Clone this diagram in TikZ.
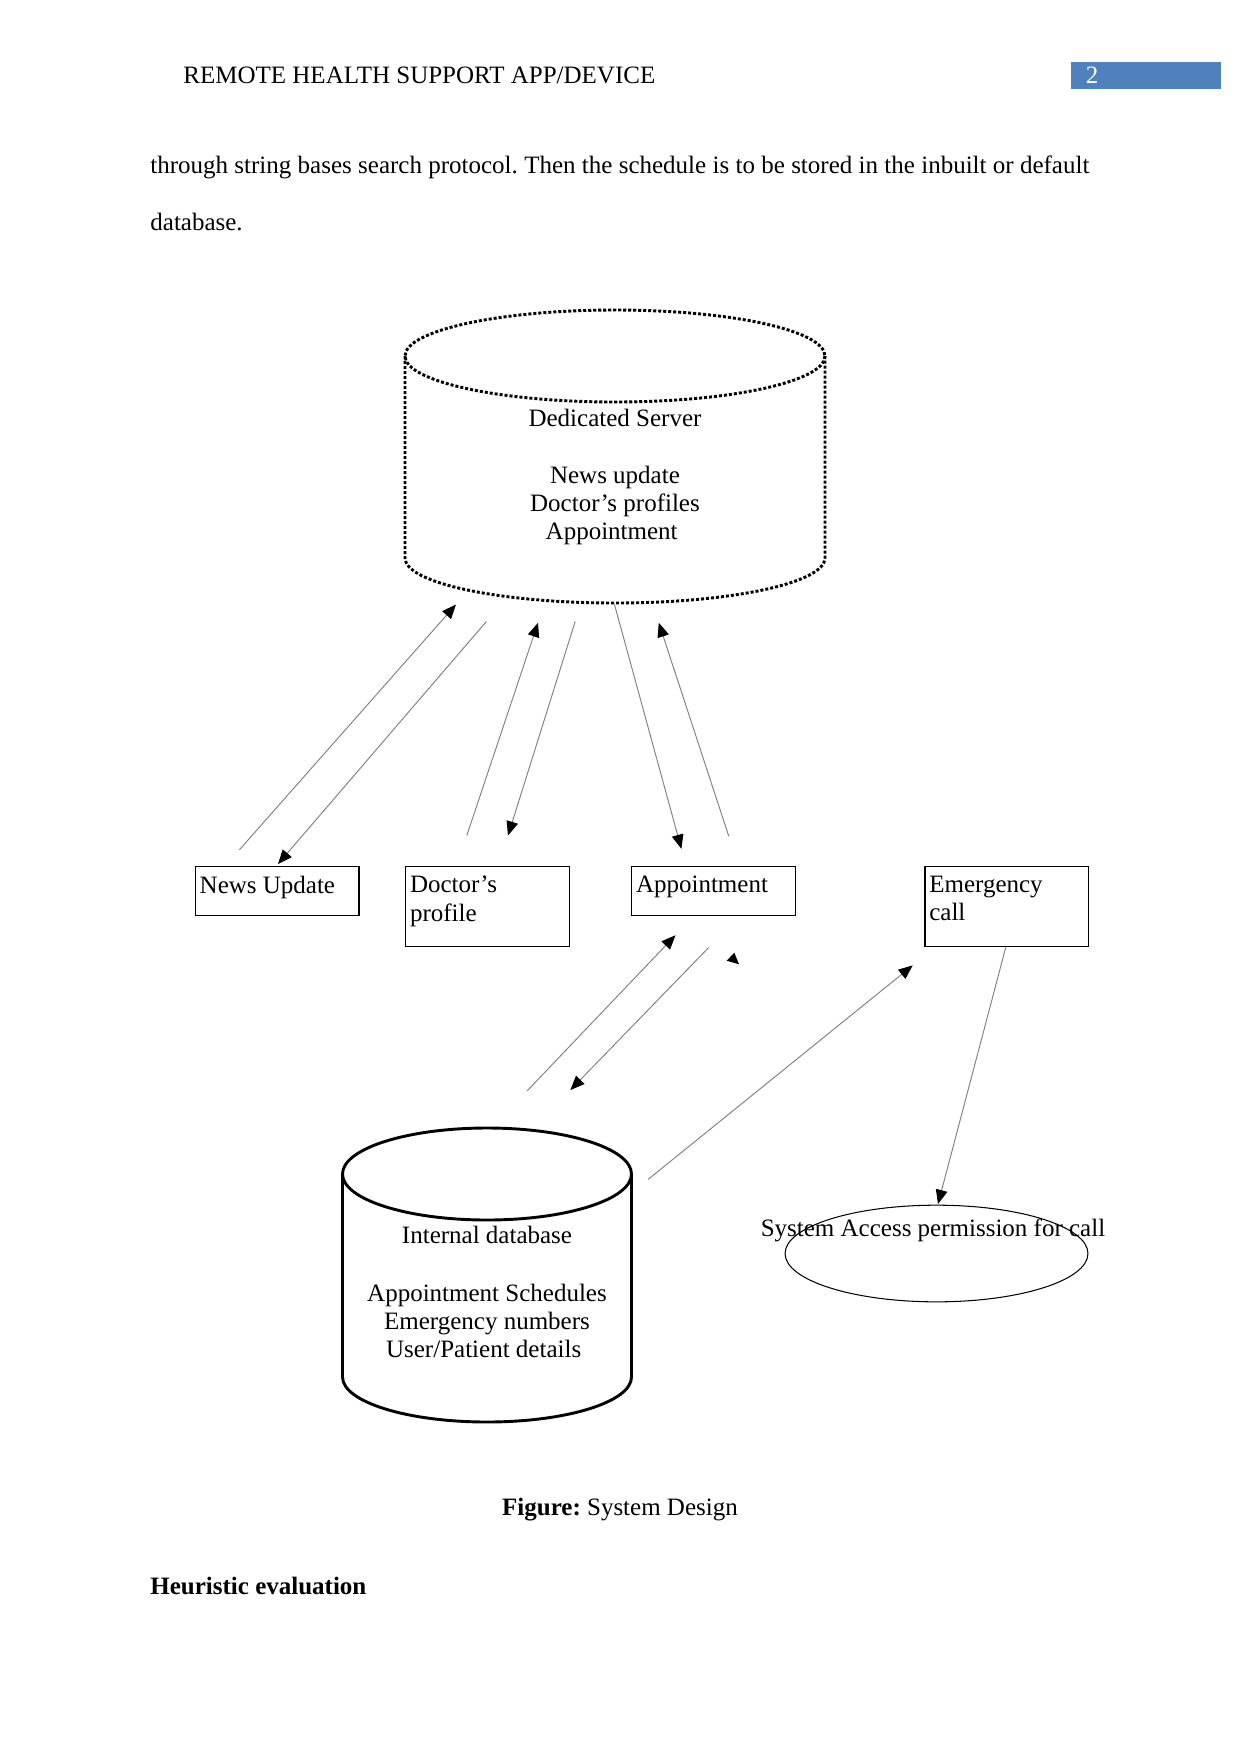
\documentclass[tikz,border=0pt]{standalone}
\usepackage{fontspec}
\setmainfont{Liberation Serif}
\usetikzlibrary{arrows.meta,shapes.geometric}
\definecolor{hdrblue}{HTML}{4F81BD}
\frenchspacing
\begin{document}
\begin{tikzpicture}[x=0.48pt,y=-0.48pt,
  every node/.style={font=\fontsize{12}{13.6}\selectfont},
  flow/.style={draw=black!50, line width=0.45pt, -{Triangle[length=6.8pt,width=5.6pt,color=black]}},
  boxnode/.style={draw, line width=0.6pt, anchor=north west, minimum width=78.6pt, inner sep=0pt},
  boxtext/.style={anchor=north west, inner sep=0pt, align=left, xshift=2.2pt, yshift=-4.7pt},
  cyltext/.style={anchor=north, inner sep=0pt, align=center},
  srvline/.style={line width=1.4pt, dash pattern=on 1.45pt off 0.95pt},
  dbline/.style={line width=1.4pt},
  plain/.style={inner sep=0pt}]
\useasboundingbox[fill=white] (0,0) rectangle (1241,1754);

% header
\node[plain, anchor=base west] (hdr) at (183,83) {REMOTE HEALTH SUPPORT APP/DEVICE};
\node[fill=hdrblue, anchor=north west, minimum width=72pt, minimum height=12.9pt, inner sep=0pt] (pgbox) at (1071,61.5) {};
\node[plain, anchor=base, text=white] (pgnum) at (1092,83) {2};

% body text
\node[plain, anchor=base west] (body1) at (150,173.3) {\makebox[450.7pt][s]{through string bases search protocol. Then the schedule is to be stored in the inbuilt or default}};
\node[plain, anchor=base west] (body2) at (150,230) {database.};

% dedicated server cylinder
\draw[srvline] (615,356) ellipse [x radius=210, y radius=46];
\draw[srvline] (405,356) -- (405,558) arc[start angle=180, end angle=0, x radius=210, y radius=45] -- (825,356);
\node[cyltext] (server) at (615,409) {Dedicated Server\\[13.4pt]News update\\Doctor’s profiles\\Appointment\hspace*{3.2pt}};

% boxes
\node[boxnode, minimum height=23.5pt] (newsbox) at (194.7,866) {};
\node[boxtext] (newstext) at (newsbox.north west) {News Update};
\node[boxnode, minimum height=38.2pt] (docbox) at (405,866) {};
\node[boxtext] (doctext) at (docbox.north west) {Doctor’s\\profile};
\node[boxnode, minimum height=23.5pt] (appbox) at (631,866) {};
\node[boxtext] (apptext) at (appbox.north west) {Appointment};
\node[boxnode, minimum height=38.2pt] (emebox) at (924.3,866) {};
\node[boxtext] (emetext) at (emebox.north west) {Emergency\\call};

% internal database cylinder
\draw[dbline] (487,1174) ellipse [x radius=144.5, y radius=46];
\draw[dbline] (342.5,1174) -- (342.5,1377) arc[start angle=180, end angle=0, x radius=144.5, y radius=45] -- (631.5,1174);
\node[cyltext] (intdb) at (487,1226) {Internal database\\[14pt]Appointment Schedules\\Emergency numbers\\User/Patient details\hspace*{3.2pt}};

% system access ellipse
\node[draw, ellipse, line width=0.5pt, minimum width=145.4pt, minimum height=46.4pt, inner sep=0pt] (sysacc) at (936.5,1253.5) {};
\node[plain, anchor=base] (systext) at (933,1236.7) {System Access permission for call};

% connector end points
\coordinate (a1s) at (239.4,849.8);  \coordinate (a1e) at (456,604.5);
\coordinate (a2s) at (486.4,621.5);  \coordinate (a2e) at (278,864);
\coordinate (a3s) at (466.8,835.5);  \coordinate (a3e) at (538,622.8);
\coordinate (a4s) at (575.2,621.4);  \coordinate (a4e) at (508,835.5);
\coordinate (a5s) at (614.4,604.2);  \coordinate (a5e) at (681.4,848.8);
\coordinate (a6s) at (728.8,836.3);  \coordinate (a6e) at (658.8,622.8);
\coordinate (a7s) at (527.2,1090.8); \coordinate (a7e) at (675.5,935.2);
\coordinate (a8s) at (708.7,947.5);  \coordinate (a8e) at (570.4,1090);
\coordinate (a10s) at (648.1,1179.4); \coordinate (a10e) at (912.7,965.4);
\coordinate (a11s) at (1005.8,947.2); \coordinate (a11e) at (938,1204);

\draw[flow] (a1s) -- (a1e);
\draw[flow] (a2s) -- (a2e);
\draw[flow] (a3s) -- (a3e);
\draw[flow] (a4s) -- (a4e);
\draw[flow] (a5s) -- (a5e);
\draw[flow] (a6s) -- (a6e);
\draw[flow] (a7s) -- (a7e);
\draw[flow] (a8s) -- (a8e);
\draw[flow] (a10s) -- (a10e);
\draw[flow] (a11s) -- (a11e);

% stray arrow head
\fill (734.3,952.7) -- (726.7,960.7) -- (739,964.3) -- cycle;

% caption and heading
\node[plain, anchor=base] (caption) at (620,1515) {\textbf{Figure:} System Design};
\node[plain, anchor=base west] (heur) at (150,1594) {\textbf{Heuristic evaluation}};
\end{tikzpicture}
\end{document}
